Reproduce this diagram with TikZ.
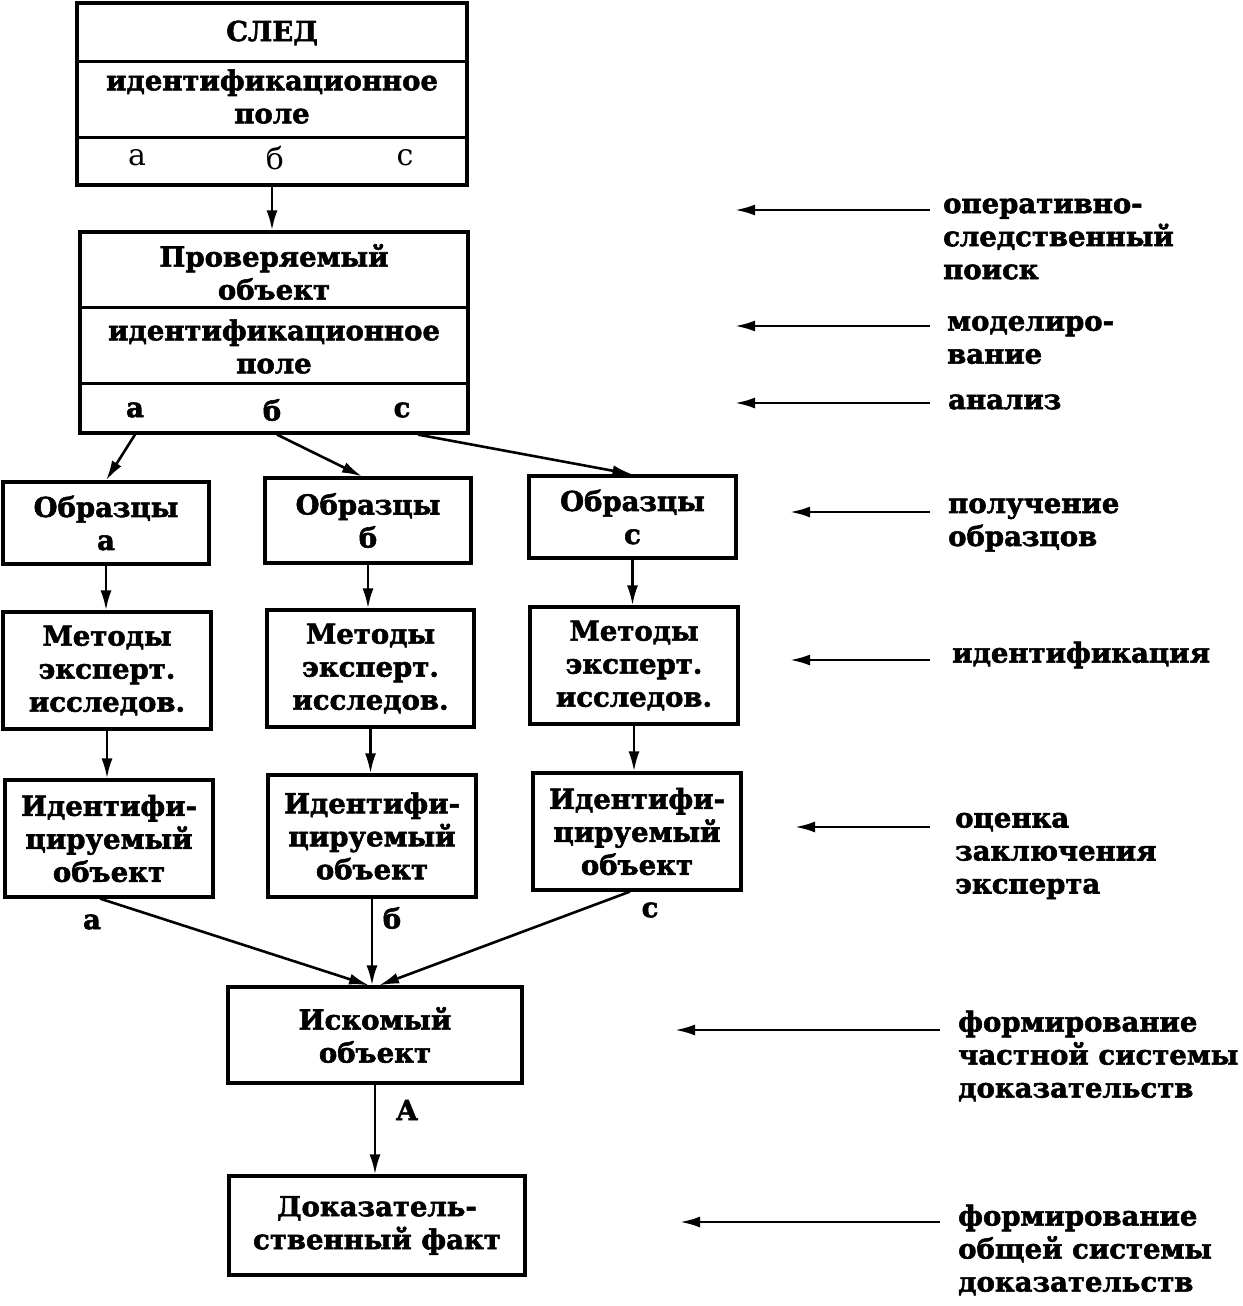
\documentclass[tikz,border=0pt]{standalone}
\usepackage{fontspec}
\setmainfont{DejaVu Serif}[BoldFeatures={FakeBold=2}]
\usetikzlibrary{arrows.meta,calc}
\begin{document}
\begin{tikzpicture}[x=1pt,y=-1pt,
  box/.style={draw,line width=3.2pt,inner sep=0pt,align=center,font=\bfseries\fontsize{27.5}{33}\selectfont},
  txt/.style={font=\bfseries\fontsize{27.5}{33}\selectfont,align=center,inner sep=0pt},
  reg/.style={font=\fontsize{30}{33}\selectfont,inner sep=0pt},
  rtxt/.style={txt,align=left,anchor=west},
  divider/.style={line width=3pt},
  arr/.style={line width=2.6pt,-{Latex[length=20pt,width=11pt]}}]
\useasboundingbox (0,0) rectangle (1242,1306);

% top box: trace
\node[box,minimum width=390pt,minimum height=182pt] (sled) at (272,94) {};
\draw[divider] (sled.west |- 0,62) -- (sled.east |- 0,62);
\draw[divider] (sled.west |- 0,137) -- (sled.east |- 0,137);
\node[txt] (sledT) at (272,33) {СЛЕД};
\node[txt] (sledF) at (272,96.5) {идентификационное\\поле};
\node[reg] (sa) at (137,158) {а};
\node[reg] (sb) at (275,158) {б};
\node[reg] (sc) at (405,158) {с};

% checked object
\node[box,minimum width=388pt,minimum height=201pt] (prov) at (274,332.5) {};
\draw[divider] (prov.west |- 0,307) -- (prov.east |- 0,307);
\draw[divider] (prov.west |- 0,383) -- (prov.east |- 0,383);
\node[txt] (provT) at (274,272) {Проверяемый\\объект};
\node[txt] (provF) at (274,346.5) {идентификационное\\поле};
\node[txt] (pa) at (135,410) {а};
\node[txt] (pb) at (272,410) {б};
\node[txt] (pc) at (402,410) {с};

% samples
\node[box,minimum width=206pt,minimum height=82pt] (obrA) at (106,523) {Образцы\\а};
\node[box,minimum width=206pt,minimum height=85pt] (obrB) at (368,520.5) {Образцы\\б};
\node[box,minimum width=207pt,minimum height=82pt] (obrC) at (632.5,517) {Образцы\\с};

% methods
\node[box,minimum width=208pt,minimum height=117pt] (metA) at (107,670.5) {Методы\\эксперт.\\исследов.};
\node[box,minimum width=207pt,minimum height=117pt] (metB) at (370.5,668.5) {Методы\\эксперт.\\исследов.};
\node[box,minimum width=208pt,minimum height=117pt] (metC) at (634,665.5) {Методы\\эксперт.\\исследов.};

% identified objects
\node[box,minimum width=208pt,minimum height=117pt] (idA) at (109,838.5) {Идентифи-\\цируемый\\объект};
\node[box,minimum width=208pt,minimum height=122pt] (idB) at (372,836) {Идентифи-\\цируемый\\объект};
\node[box,minimum width=208pt,minimum height=117pt] (idC) at (637,831.5) {Идентифи-\\цируемый\\объект};
\node[txt] (la) at (92,922) {а};
\node[txt] (lb) at (392,918) {б};
\node[txt] (lc) at (650,910) {с};

% sought object and fact
\node[box,minimum width=294pt,minimum height=96pt] (isk) at (375,1035) {Искомый\\объект};
\node[box,minimum width=296pt,minimum height=99pt] (dok) at (377,1225.5) {Доказатель-\\ственный факт};
\node[txt] (lA) at (407,1110) {А};

% connectors
\draw[arr] (sled.south) -- (sled.south |- prov.north);
\draw[arr] (pa |- prov.south) -- (obrA.north);
\draw[arr] ($(pb |- prov.south)+(5,0)$) -- ([xshift=-6pt]obrB.north);
\draw[arr] ($(pc |- prov.south)+(16,0)$) -- (obrC.north);
\draw[arr] (obrA.south) -- (obrA.south |- metA.north);
\draw[arr] (obrB.south) -- (obrB.south |- metB.north);
\draw[arr] (obrC.south) -- (obrC.south |- metC.north);
\draw[arr] (metA.south) -- (metA.south |- idA.north);
\draw[arr] (metB.south) -- (metB.south |- idB.north);
\draw[arr] (metC.south) -- (metC.south |- idC.north);
\draw[arr] ([xshift=-9pt]idA.south) -- ([xshift=-6pt]isk.north);
\draw[arr] (idB.south) -- (idB.south |- isk.north);
\draw[arr] ([xshift=-7pt]idC.south) -- ([xshift=4pt]isk.north);
\draw[arr] (isk.south) -- (isk.south |- dok.north);

% right-hand stages
\node[rtxt] (r1) at (943,239) {оперативно-\\следственный\\поиск};
\node[rtxt] (r2) at (947,340) {моделиро-\\вание};
\node[rtxt] (r3) at (948,402) {анализ};
\node[rtxt] (r4) at (948,525) {получение\\образцов};
\node[rtxt] (r5) at (952,655) {идентификация};
\node[rtxt] (r6) at (955,856) {оценка\\заключения\\эксперта};
\node[rtxt] (r7) at (958,1056) {формирование\\частной системы\\доказательств};
\node[rtxt] (r8) at (958,1250) {формирование\\общей системы\\доказательств};

\coordinate (e1) at (735,210);
\coordinate (e2) at (735,326);
\coordinate (e3) at (735,403);
\coordinate (e4) at (790,512);
\coordinate (e5) at (790,660);
\coordinate (e6) at (795,827);
\coordinate (e7) at (675,1030);
\coordinate (e8) at (680,1222);
\draw[arr] ($(r1.west |- e1)+(-13,0)$) -- (e1);
\draw[arr] ($(r2.west |- e2)+(-17,0)$) -- (e2);
\draw[arr] ($(r3.west |- e3)+(-18,0)$) -- (e3);
\draw[arr] ($(r4.west |- e4)+(-18,0)$) -- (e4);
\draw[arr] ($(r5.west |- e5)+(-22,0)$) -- (e5);
\draw[arr] ($(r6.west |- e6)+(-25,0)$) -- (e6);
\draw[arr] ($(r7.west |- e7)+(-18,0)$) -- (e7);
\draw[arr] ($(r8.west |- e8)+(-18,0)$) -- (e8);
\end{tikzpicture}
\end{document}
